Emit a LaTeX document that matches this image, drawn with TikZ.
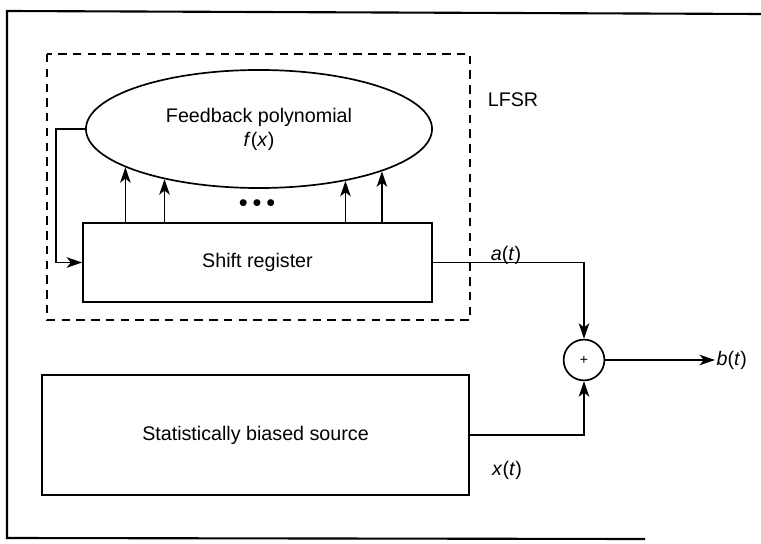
\documentclass[tikz,border=0pt]{standalone}
\usepackage{fontspec}
\setmainfont{Liberation Sans}
\usetikzlibrary{shapes.geometric}
\usetikzlibrary{arrows.meta}
\tikzset{
    blockbox/.style = {rectangle, draw=black, line width=1.2pt, inner sep=0pt},
    polynode/.style = {ellipse, draw=black, line width=1.2pt, inner sep=0pt, align=center,
                       minimum width=8.65cm, minimum height=2.95cm},
    sumnode/.style = {circle, draw=black, line width=1.2pt, inner sep=0pt, minimum size=1.02cm,
                      font=\fontsize{10}{12}\selectfont},
    lbl/.style = {inner sep=1pt},
    edgen/.style = {-{Stealth[length=11pt,width=7.5pt,inset=3pt]}, line width=1.2pt},
    lfsrbox/.style = {draw=black, line width=1.6pt, dash pattern=on 6pt off 4.5pt},
    framen/.style = {draw=black, line width=1.5pt}
}

\begin{document}
\begin{tikzpicture}[x=0.025cm, y=-0.025cm, font=\fontsize{14}{17}\selectfont]
  \useasboundingbox (0,0) rectangle (761,544);

  % frame, open on the right
  \draw[framen] (761,14) -- (7,11) -- (7,538) -- (645,539);

  % LFSR part
  \draw[lfsrbox] (47,54) rectangle (470,320);
  \node[lbl] (lfsr) at (513,100) {LFSR};

  \node[polynode] (poly) at (259,129) {Feedback polynomial\\\textit{f}(\textit{x})};
  \node[blockbox, minimum width=8.725cm, minimum height=1.975cm] (reg) at (257.5,262.5) {Shift register};
  \node[font=\fontsize{18}{20}\selectfont] (dots) at (257,206)
    {\textbullet\hspace{3.5pt}\textbullet\hspace{3.5pt}\textbullet};

  \draw[edgen] (poly.196.66 |- reg.north) -- (poly.196.66);
  \draw[edgen] (poly.208.5 |- reg.north) -- (poly.208.5);
  \draw[edgen] (poly.329.6 |- reg.north) -- (poly.329.6);
  \draw[edgen] (poly.341.66 |- reg.north) -- (poly.341.66);

  \draw[edgen] (poly.west) -- ++(-29,0) |- (reg.west);

  % source and sum
  \node[blockbox, minimum width=10.675cm, minimum height=3.0cm] (src) at (255.5,435) {Statistically biased source};
  \node[sumnode] (sum) at (584,360) {+};

  \draw[edgen] (reg.east) -| (sum.north);
  \draw[edgen] (src.east) -| (sum.south);

  \node[lbl] (at) at (506,255) {\textit{a}(\textit{t})};
  \node[lbl] (xt) at (507,470) {\textit{x}(\textit{t})};
  \node[lbl, anchor=west] (bt) at (715,360) {\textit{b}(\textit{t})};

  \draw[edgen] (sum.east) -- (bt.west);
\end{tikzpicture}
\end{document}
